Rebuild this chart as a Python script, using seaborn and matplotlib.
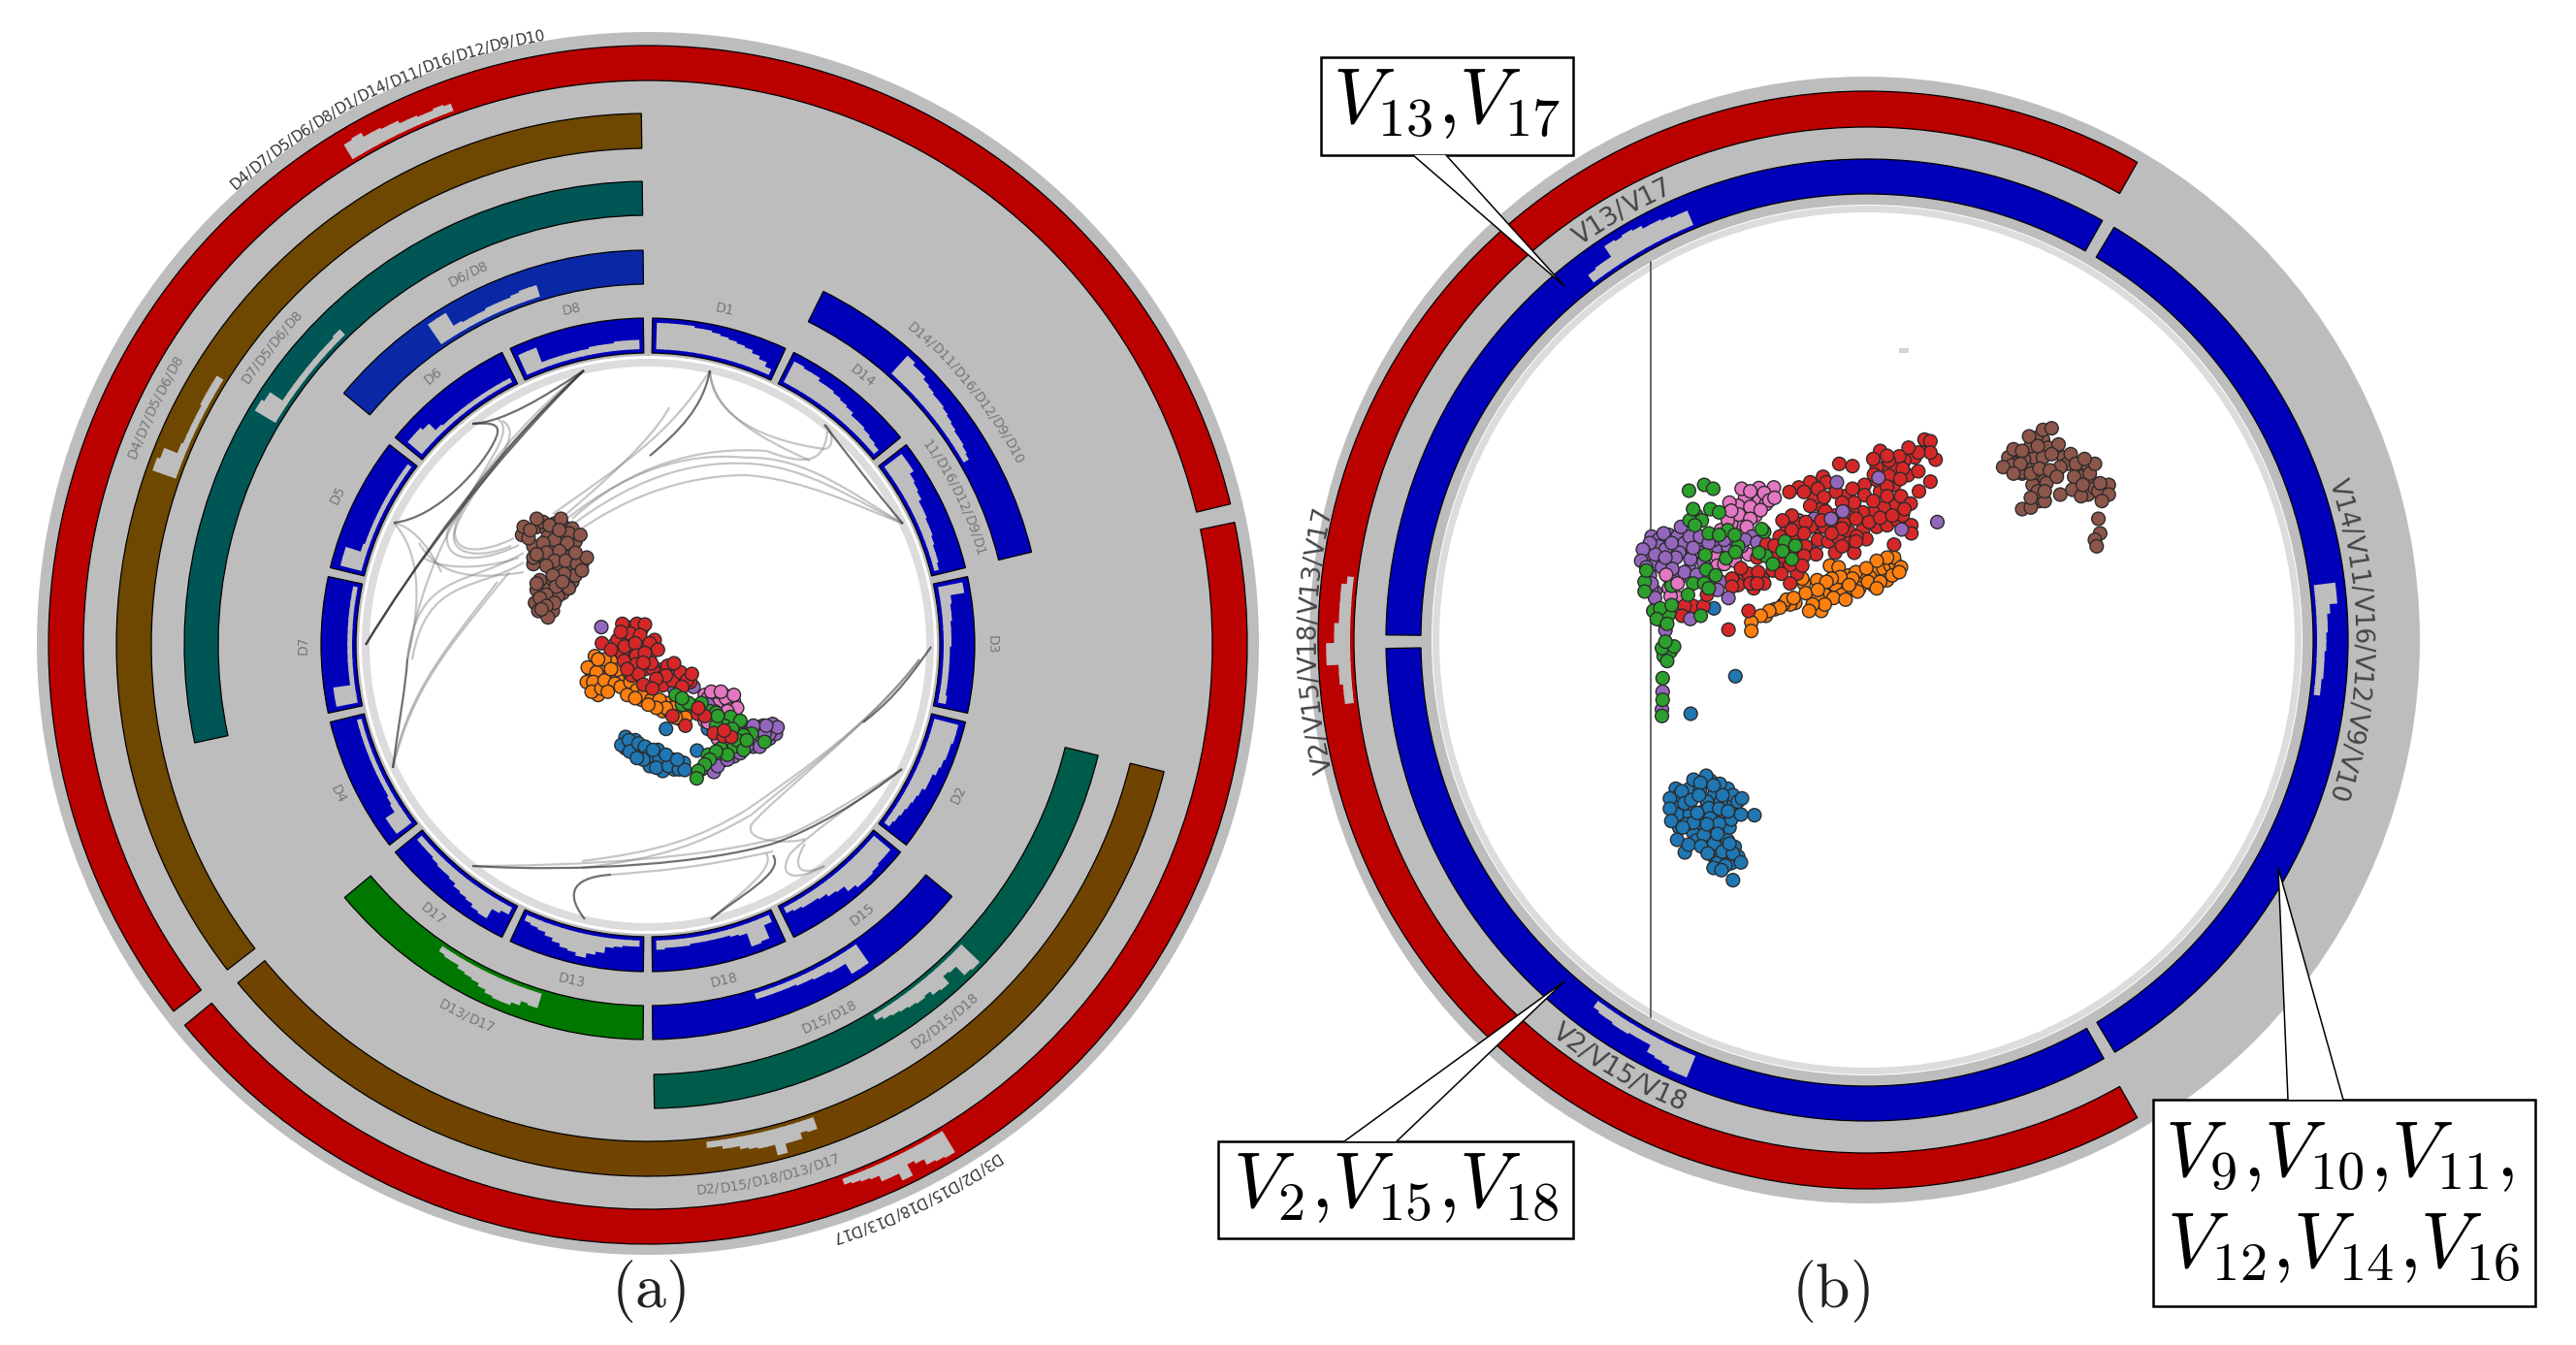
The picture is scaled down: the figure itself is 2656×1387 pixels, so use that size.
import numpy as np
import pandas as pd
import seaborn as sns
from matplotlib import pyplot as plt
from matplotlib.path import Path
from matplotlib.patches import PathPatch, Rectangle, Polygon, Ellipse
from matplotlib.textpath import text_to_path
from matplotlib.font_manager import FontProperties

W, H = 2656, 1387
GRAY = "#bdbdbd"

# ---- left panel: bands as (inner r, outer r, start deg, end deg, colour)
a_ring_r = [(582, 618), (582, 618), (512, 548), (512, 548), (443, 478), (443, 478),
            (372, 407), (372, 407), (372, 407), (372, 407)]
a_ring_start = [-127.7, 78.2, -127.7, 103.8, -102.2, 103.8, -50.4, 26.4, 129.6, 180.7]
a_ring_end = [76.4, 230.6, -0.7, 230.5, -0.7, 179.2, -0.7, 76.4, 179.3, 230.2]
a_ring_col = ["#bb0000", "#bb0000", "#6e4700", "#704400", "#005555", "#005c4a",
              "#0a28a6", "#0000b8", "#0000b8", "#007700"]

# histograms on the outer bands: start, end, heights (share of band)
a_hist_start = [328.7, 148.8, 289.4, 160.7, 300.8, 133.7, 325.5, 41.9, 145.2, 196.9]
a_hist_end = [340.0, 160.0, 302.0, 173.3, 315.7, 148.7, 342.8, 60.0, 163.0, 214.3]
a_hist = [
    [.55, .6, .45, .45, .4, .4, .3, .3, .25, .25, .3, .25],
    [.8, .75, .7, .5, .4, .8, .55, .55, .35, .3, .25, .2],
    [.8, .7, .25, .2, .2, .2, .2, .25, .25, .25],
    [.4, .35, .55, .55, .85, .5, .5, .45, .4, .3, .3, .2, .2],
    [.8, .7, .2, .2, .2, .2, .2, .2, .2, .2, .25],
    [.85, .8, .4, .35, .65, .6, .45, .5, .45, .4, .35, .3, .2],
    [.8, .8, .3, .25, .25, .25, .3, .3, .3, .35, .4, .4],
    [.8, .7, .7, .6, .55, .5, .5, .45, .4, .35, .3, .3, .25, .2],
    [.75, .75, .35, .35, .3, .3, .25, .25, .2, .2, .2, .2, .2],
    [.5, .45, .6, .7, .7, .65, .55, .45, .4, .35, .25, .25, .2],
]
a_ring_hist_band = [(582, 618), (582, 618), (512, 548), (512, 548), (443, 478), (443, 478),
                    (372, 407), (372, 407), (372, 407), (372, 407)]

# inner ring of 14 dimensions, clockwise from the top
dims = ["D1", "D14", "", "D3", "D2", "D15", "D18", "D13", "D17", "D4", "D7", "D5", "D6", "D8"]
dim_hist = [
    [.85, .85, .85, .85, .8, .8, .75, .7, .65, .6, .55, .45, .35, .2],
    [.75, .7, .7, .6, .6, .55, .5, .45, .35, .35, .3, .25, .2],
    [.7, .7, .55, .5, .45, .35, .35, .3, .3, .25, .2, .2, .15],
    [.8, .35, .3, .3, .25, .25, .25, .2, .2, .2, .2, .2, .2, .25],
    [.8, .8, .75, .75, .7, .65, .55, .55, .45, .4, .35, .3, .25, .2],
    [.7, .7, .75, .8, .8, .7, .5, .45, .35, .3, .3, .25, .2],
    [.25, .7, .75, .3, .25, .2, .2, .2, .2, .2, .25, .25, .25, .3],
    [.2, .2, .25, .3, .5, .6, .75, .65, .6, .5, .4, .3, .25, .2],
    [.25, .35, .7, .65, .55, .5, .45, .35, .3, .3, .25, .2, .2, .2],
    [.6, .6, .25, .2, .15, .15, .15, .15, .15, .15, .15, .15, .15, .15],
    [.7, .7, .15, .15, .15, .15, .15, .15, .15, .15, .15, .15, .15, .15],
    [.7, .7, .2, .15, .15, .15, .15, .15, .15, .15, .15, .15, .15, .15],
    [.6, .6, .5, .2, .15, .15, .15, .15, .15, .15, .15, .15, .15, .15],
    [.7, .7, .2, .2, .2, .2, .2, .2, .25, .25, .25, .3, .3, .3],
]

# outer labels: text, radius, angle, flipped upright
a_labels = ["D4/D7/D5/D6/D8/D1/D14/D11/D16/D12/D9/D10", "D3/D2/D15/D18/D13/D17", "D4/D7/D5/D6/D8",
            "D7/D5/D6/D8", "D6/D8", "D14/D11/D16/D12/D9/D10", "11/D16/D12/D9/D1", "D13/D17",
            "D15/D18", "D2/D15/D18", "D2/D15/D18/D13/D17"]
a_label_r = [637, 639, 566, 496, 425, 426, 355, 427, 427, 495, 565]
a_label_th = [334.1, 154.2, 295.8, 308.4, 334.2, 51.6, 64.4, 206, 154, 141.7, 167.2]
a_label_flip = [False, False, False, False, False, False, False, True, True, True, True]

# bundled links as cubic segments (dark ones first)
links_dark = [
    [(602, 382), (510, 473), (423, 587), (377, 665)],
    [(602, 382), (505, 470), (430, 580), (377, 665)],
    [(406, 539), (450, 535), (500, 480), (512, 450)],
    [(512, 450), (517, 436), (505, 436), (487, 437)],
    [(487, 437), (520, 435), (560, 410), (602, 382)],
    [(850, 438), (875, 470), (905, 510), (931, 540)],
    [(732, 382), (725, 420), (700, 445), (670, 470)],
    [(405, 792), (412, 740), (418, 710), (420, 680)],
    [(487, 893), (600, 900), (730, 890), (797, 870)],
    [(797, 870), (840, 855), (890, 825), (930, 793)],
    [(733, 948), (760, 925), (810, 900), (797, 882)],
    [(603, 948), (585, 925), (585, 905), (630, 902)],
    [(960, 667), (930, 710), (915, 725), (890, 745)],
]
links_light = [
    [(602, 382), (500, 465), (440, 560), (420, 680)],
    [(406, 539), (425, 560), (440, 600), (420, 680)],
    [(406, 539), (430, 545), (445, 570), (455, 590)],
    [(405, 792), (420, 720), (450, 680), (513, 600)],
    [(405, 792), (425, 710), (460, 670), (525, 590)],
    [(513, 432), (535, 445), (490, 490), (470, 540)],
    [(470, 540), (462, 575), (500, 570), (530, 555)],
    [(518, 434), (545, 450), (495, 495), (462, 545)],
    [(462, 545), (452, 590), (510, 575), (535, 562)],
    [(602, 382), (540, 440), (480, 510), (468, 550)],
    [(468, 550), (465, 575), (500, 575), (527, 563)],
    [(540, 570), (480, 605), (430, 590), (420, 680)],
    [(540, 580), (490, 610), (440, 595), (425, 680)],
    [(540, 590), (480, 600), (450, 590), (432, 560)],
    [(535, 575), (490, 590), (450, 585), (437, 575)],
    [(570, 530), (640, 480), (690, 450), (732, 382)],
    [(578, 535), (650, 475), (680, 440), (690, 420)],
    [(578, 540), (640, 490), (700, 465), (770, 472)],
    [(770, 472), (830, 470), (880, 510), (931, 540)],
    [(585, 545), (650, 495), (710, 475), (770, 478)],
    [(770, 478), (830, 480), (880, 515), (931, 540)],
    [(597, 547), (650, 510), (710, 490), (770, 490)],
    [(770, 490), (830, 495), (880, 520), (931, 540)],
    [(590, 535), (650, 480), (720, 460), (790, 465)],
    [(790, 465), (830, 480), (850, 478), (853, 445)],
    [(732, 382), (733, 430), (790, 455), (850, 463)],
    [(850, 463), (862, 462), (858, 440), (850, 438)],
    [(732, 382), (735, 425), (780, 450), (835, 475)],
    [(948, 680), (900, 745), (820, 800), (770, 835)],
    [(770, 835), (720, 865), (680, 878), (600, 888)],
    [(948, 680), (895, 750), (815, 805), (775, 840)],
    [(775, 840), (720, 872), (680, 885), (600, 895)],
    [(948, 680), (900, 745), (800, 820), (775, 850)],
    [(775, 850), (765, 870), (820, 870), (830, 865)],
    [(850, 893), (820, 910), (800, 905), (815, 880)],
    [(815, 880), (840, 855), (900, 815), (930, 793)],
    [(850, 893), (825, 905), (815, 895), (830, 870)],
    [(630, 902), (680, 898), (720, 895), (797, 878)],
    [(487, 893), (600, 893), (730, 885), (810, 862)],
    [(810, 862), (840, 850), (880, 825), (930, 793)],
    [(733, 948), (765, 920), (800, 895), (790, 880)],
]

# ---- left panel scatter, embedding units
ax_brown = [(25, 155), (45, 165), (30, 130), (60, 225), (90, 115), (70, 105), (110, 125), (145, 105), (170, 150), (205, 155), (125, 170), (90, 180), (165, 180), (140, 205), (100, 210), (70, 215), (125, 235), (100, 250), (160, 235), (195, 245), (225, 225), (190, 280), (155, 275), (80, 295), (70, 305), (120, 280), (130, 315), (170, 320), (100, 340), (80, 350), (125, 365), (100, 375), (75, 390), (105, 410), (85, 385), (190, 210), (140, 140), (50, 140), (210, 265), (150, 300)]
ax_brown_more = [(40, 150), (70, 130), (100, 135), (125, 120), (150, 125), (180, 135), (190, 175), (165, 205), (115, 195), (80, 195), (60, 190), (105, 160), (135, 165), (150, 190), (85, 235), (115, 260), (140, 255), (175, 265), (205, 230), (210, 245), (140, 290), (100, 305), (115, 330), (150, 335), (90, 320), (70, 325), (110, 355), (135, 345), (95, 395), (120, 390), (65, 365), (180, 300), (170, 250), (60, 245)]
ax_blue = [(332, 805), (355, 790), (358, 825), (385, 800), (405, 810), (415, 840), (450, 845), (440, 875), (478, 870), (510, 880), (528, 882), (470, 835), (400, 850), (430, 820), (380, 845), (505, 850), (470, 755), (566, 822), (600, 755)]
ax_blue_more = [(345, 815), (370, 815), (395, 825), (420, 855), (435, 850), (455, 860), (490, 850), (495, 880), (460, 885), (375, 790), (405, 835), (445, 820), (525, 860), (345, 780), (420, 870)]
ax_pink = [(590, 650), (640, 665), (665, 680), (610, 665), (680, 670), (645, 690), (650, 650), (590, 730), (650, 805), (625, 650), (600, 660), (625, 680), (655, 660), (670, 695), (690, 690), (620, 700), (660, 700), (575, 690), (610, 640), (640, 640), (680, 650), (600, 735), (630, 785)]
ax_purple = [(270, 440), (310, 495), (453, 572), (503, 590), (480, 612), (555, 625), (495, 630), (765, 768), (805, 755), (740, 810), (710, 750), (730, 760), (790, 785), (770, 745), (755, 795), (810, 770), (618, 888), (640, 855), (680, 840), (600, 680), (720, 770), (750, 750), (785, 760), (790, 770), (800, 740), (745, 780), (775, 770), (760, 810), (720, 810), (700, 830), (815, 750), (780, 745), (630, 870), (660, 850), (740, 745), (460, 610), (515, 630), (530, 615)]
ax_orange_more = [(240, 580), (265, 560), (300, 545), (295, 595), (255, 605), (225, 610), (260, 650), (340, 600), (345, 630), (370, 625), (395, 665), (410, 655), (440, 680), (460, 700), (480, 700), (505, 695), (515, 725), (470, 675), (320, 600), (250, 530)]
ax_orange = [(228, 565), (255, 580), (280, 540), (320, 572), (245, 610), (240, 640), (270, 630), (280, 605), (312, 615), (300, 570), (260, 540), (330, 625), (360, 610), (380, 635), (400, 650), (425, 665), (450, 665), (490, 690), (470, 690), (520, 705), (530, 720), (440, 690), (350, 650), (500, 720), (290, 640), (375, 660), (415, 680)]
ax_red_more = [(350, 440), (395, 445), (365, 480), (345, 480), (400, 500), (435, 480), (360, 515), (395, 535), (420, 525), (355, 535), (335, 525), (405, 570), (365, 590), (450, 580), (475, 560), (510, 600), (460, 620), (490, 605), (515, 580), (430, 570), (545, 610), (320, 480)]
ax_red = [(335, 430), (380, 430), (405, 432), (360, 460), (390, 465), (330, 455), (272, 490), (342, 500), (300, 510), (375, 490), (420, 490), (445, 510), (378, 528), (340, 545), (378, 555), (425, 552), (385, 585), (350, 570), (405, 520), (495, 552), (470, 590), (535, 605), (550, 585), (440, 600), (400, 618), (428, 630), (520, 625), (400, 550), (490, 715), (530, 745)]
ax_green_more = [(520, 680), (560, 685), (605, 700), (640, 725), (660, 730), (690, 745), (690, 760), (735, 770), (700, 800), (680, 810), (640, 815), (600, 835), (580, 880)]
ax_green = [(500, 650), (540, 675), (580, 675), (520, 660), (625, 705), (670, 718), (700, 730), (650, 745), (625, 745), (675, 755), (630, 715), (710, 775), (690, 790), (710, 820), (775, 795), (660, 835), (625, 825), (605, 850), (590, 865), (570, 885), (565, 908), (720, 790)]
ax_red_top = [(568, 708), (590, 715), (570, 690), (618, 768), (648, 778), (672, 780), (650, 760)]

# ---- right panel: bands
b_ring_r = [(529, 566), (460, 496), (460, 496), (460, 496)]
b_ring_start = [150.5, -89.4, 30.9, 150.5]
b_ring_end = [389.5, 29.3, 149.0, 269.0]
b_ring_col = ["#bb0000", "#0000b8", "#0000b8", "#0000b8"]

b_hist_start = [322.6, 83.0, 202.4, 263.0]
b_hist_end = [337.3, 97.0, 216.7, 277.0]
b_hist_band = [(460, 496), (460, 496), (460, 496), (529, 566)]
b_hist = [
    [.3, .35, .35, .75, .7, .75, .7, .6, .6, .55, .5, .5],
    [.7, .7, .45, .35, .35, .3, .3, .25, .25, .25, .2, .2],
    [.75, .75, .65, .6, .55, .3, .3, .3, .35, .35, .3, .3, .25],
    [.28, .28, .38, .38, .75, .75, .5, .5, .36, .36, .36, .36, .2],
]

b_labels = ["V13/V17", "V14/V11/V16/V12/V9/V10", "V2/V15/V18/V13/V17", "V2/V15/V18"]
b_label_r = [509, 510, 574, 514]
b_label_th = [330.3, 90, 270, 210]
b_label_flip = [False, False, False, True]

# ---- right panel scatter, embedding units
bx_blue = [(362, 892), (233, 1008), (173, 1270), (173, 1302), (177, 1340), (194, 1398), (216, 1437), (207, 1248), (215, 1285), (241, 1212), (278, 1200), (261, 1222), (317, 1225), (325, 1260), (299, 1230), (235, 1275), (257, 1260), (285, 1300), (315, 1302), (289, 1332), (241, 1345), (315, 1348), (271, 1383), (310, 1380), (227, 1413), (263, 1418), (282, 1440), (325, 1435), (355, 1440), (378, 1468), (333, 1478), (299, 1485), (322, 1492), (355, 1523), (417, 1322), (378, 1320), (369, 1280), (381, 1270), (345, 1410), (210, 1360), (341, 1310), (252, 1315), (280, 1350), (300, 682)]
bx_blue_more = [(190, 1240), (200, 1280), (195, 1320), (230, 1240), (260, 1245), (290, 1215), (300, 1260), (340, 1240), (230, 1320), (270, 1310), (300, 1330), (330, 1330), (350, 1290), (200, 1360), (240, 1375), (280, 1390), (300, 1410), (250, 1400), (300, 1450), (340, 1400), (320, 1455), (350, 1470), (310, 1360), (345, 1360), (260, 1345), (220, 1350), (285, 1365), (350, 1335), (200, 1260), (230, 1285), (320, 1280), (355, 1260), (280, 1280), (360, 1420), (370, 1450), (310, 1470)]
bx_brown = [(1135, 245), (1165, 190), (1190, 195), (1210, 150), (1250, 130), (1275, 125), (1235, 180), (1295, 175), (1185, 235), (1165, 265), (1215, 265), (1275, 205), (1300, 245), (1240, 250), (1270, 255), (1330, 205), (1345, 235), (1385, 265), (1400, 235), (1370, 220), (1340, 275), (1300, 330), (1335, 315), (1360, 335), (1365, 300), (1410, 320), (1440, 330), (1415, 295), (1190, 375), (1215, 370), (1255, 350), (1235, 320), (1255, 320), (1215, 340), (1410, 405), (1415, 450), (1400, 470), (1405, 490), (1420, 350), (1290, 275)]
bx_brown_more = [(1150, 215), (1180, 205), (1210, 200), (1225, 215), (1250, 160), (1265, 185), (1290, 200), (1310, 215), (1250, 215), (1200, 245), (1190, 265), (1230, 280), (1255, 285), (1195, 220), (1230, 155), (1215, 180), (1290, 260), (1320, 235), (1355, 250), (1380, 240), (1360, 275), (1390, 290), (1345, 310), (1380, 330), (1435, 310), (1400, 310), (1420, 340), (1440, 300), (1240, 350), (1220, 300), (1260, 295), (1230, 340), (1190, 260), (1170, 235), (1160, 240)]
bx_orange_more = [(770, 560), (790, 560), (810, 550), (750, 585), (720, 600), (690, 580), (670, 620), (640, 620), (620, 640), (590, 650), (560, 605), (730, 570), (760, 610), (710, 570), (680, 625), (800, 595), (825, 545), (545, 580), (650, 610), (535, 665), (520, 670), (500, 670), (475, 685), (450, 705), (600, 650), (670, 640), (700, 620), (720, 620), (610, 690)]
bx_orange = [(635, 550), (660, 555), (820, 525), (800, 525), (770, 535), (740, 558), (700, 590), (665, 585), (640, 590), (598, 595), (555, 590), (625, 600), (565, 635), (645, 650), (680, 655), (715, 630), (745, 600), (780, 600), (815, 580), (840, 555), (620, 670), (585, 670), (575, 690), (510, 655), (490, 680), (460, 690), (435, 705), (408, 725), (408, 752), (530, 650), (770, 620), (690, 610), (835, 570), (600, 625)]
bx_pink_more = [(420, 330), (390, 340), (370, 365), (430, 350), (420, 395), (360, 420), (380, 420), (320, 440), (310, 520), (340, 510), (380, 505), (170, 620), (180, 690), (170, 700), (200, 650), (310, 550), (350, 420), (450, 360), (430, 310)]
bx_pink = [(380, 312), (405, 320), (473, 308), (445, 325), (460, 348), (345, 355), (405, 368), (435, 378), (372, 392), (340, 410), (405, 405), (395, 430), (400, 515), (175, 645), (150, 690), (190, 680), (330, 545), (360, 535), (475, 340), (350, 380)]
bx_purple_more = [(120, 460), (140, 470), (170, 455), (195, 460), (215, 480), (250, 480), (200, 510), (140, 490), (105, 520), (130, 545), (115, 580), (150, 555), (190, 525), (260, 510), (230, 560), (200, 590), (270, 540), (310, 490), (340, 490), (380, 490), (360, 470), (410, 460), (130, 630), (120, 625), (160, 500), (170, 585), (240, 510), (300, 600), (320, 600), (150, 720), (160, 700)]
bx_purple = [(130, 515), (115, 480), (155, 450), (178, 480), (230, 460), (260, 460), (205, 430), (160, 525), (232, 530), (95, 500), (90, 535), (130, 650), (120, 605), (105, 555), (215, 570), (250, 578), (300, 470), (240, 495), (180, 560), (285, 480), (330, 470), (390, 470), (425, 478), (600, 480), (310, 625), (160, 750), (155, 815), (152, 940), (150, 995), (590, 405), (545, 410)]
bx_red_more = [(915, 185), (880, 215), (850, 225), (820, 245), (790, 250), (770, 245), (860, 270), (820, 300), (780, 320), (850, 355), (820, 365), (790, 370), (760, 385), (730, 385), (700, 385), (690, 400), (650, 395), (600, 430), (620, 430), (580, 430), (540, 420), (510, 430), (530, 470), (600, 470), (630, 475), (660, 465), (690, 445), (730, 440), (770, 430), (800, 425), (830, 410), (845, 395), (690, 480), (650, 510), (530, 510), (545, 490), (500, 540), (480, 555), (470, 565), (540, 575), (390, 580), (370, 610), (400, 575), (440, 590), (415, 620), (480, 510), (440, 505), (650, 420), (610, 365), (680, 335), (590, 340), (735, 300), (770, 285)]
bx_red = [(908, 160), (925, 165), (940, 222), (925, 200), (890, 200), (862, 185), (835, 212), (805, 225), (780, 195), (760, 220), (800, 210), (845, 250), (805, 272), (838, 282), (762, 268), (890, 258), (925, 290), (892, 320), (662, 235), (700, 242), (615, 275), (578, 292), (625, 292), (545, 308), (518, 322), (560, 322), (600, 312), (652, 322), (700, 312), (618, 338), (735, 332), (760, 350), (800, 305), (840, 335), (800, 335), (705, 355), (670, 355), (868, 358), (578, 365), (622, 382), (525, 395), (498, 410), (565, 415), (610, 410), (675, 420), (710, 405), (748, 415), (780, 402), (815, 395), (850, 375), (870, 425), (870, 450), (820, 485), (740, 468), (712, 460), (670, 435), (640, 450), (560, 450), (525, 440), (490, 460), (452, 483), (475, 488), (425, 525), (565, 490), (595, 515), (560, 520), (520, 548), (495, 575), (520, 605), (555, 550), (670, 490), (705, 510), (710, 475), (378, 558), (428, 570), (352, 590), (405, 605), (445, 605), (425, 605), (352, 615), (240, 675), (215, 675), (270, 675), (400, 690), (342, 748), (280, 640), (208, 705)]
bx_purple_top = [(655, 292), (775, 278), (672, 382), (638, 405), (842, 438), (945, 415), (342, 650), (232, 715)]
bx_green_more = [(250, 395), (265, 410), (230, 410), (340, 440), (370, 490), (445, 445), (525, 530), (450, 520), (430, 510), (170, 700), (155, 830), (175, 815), (125, 690)]
bx_green = [(228, 318), (272, 300), (298, 312), (240, 375), (290, 375), (315, 385), (245, 425), (285, 450), (315, 455), (360, 455), (275, 517), (335, 527), (362, 508), (438, 437), (505, 475), (535, 488), (498, 505), (470, 545), (278, 562), (305, 580), (240, 605), (272, 605), (178, 612), (100, 600), (105, 565), (225, 640), (145, 682), (178, 672), (135, 715), (165, 730), (262, 705), (150, 805), (185, 800), (160, 785), (165, 845), (152, 898), (152, 965), (150, 1015), (100, 630), (285, 620)]
bx_pink_top = [(162, 578), (195, 605)]

palette = {"blue": "#1f77b4", "orange": "#ff7f0e", "green": "#2ca02c", "red": "#d62728",
           "purple": "#9467bd", "brown": "#8c564b", "pink": "#e377c2"}

sns.set_theme(style="white")
plt.rcParams["mathtext.fontset"] = "cm"
plt.rcParams["font.family"] = "DejaVu Sans"

fig = plt.figure(figsize=(W / 100, H / 100), dpi=100)
fig.patch.set_facecolor("white")

# grey discs sit behind everything, in pixel units
bg = fig.add_axes([0, 0, 1, 1], zorder=0)
bg.set_xlim(0, W)
bg.set_ylim(H, 0)
bg.axis("off")
bg.add_patch(Ellipse((668, 663.5), 1260, 1261, color=GRAY, lw=0))
bg.add_patch(Ellipse((1922.5, 660), 1145, 1162, color=GRAY, lw=0))


def polar_panel(cx, cy, R):
    ax = fig.add_axes([(cx - R) / W, 1 - (cy + R) / H, 2 * R / W, 2 * R / H], projection="polar", zorder=1)
    ax.set_theta_zero_location("N")
    ax.set_theta_direction(-1)
    ax.set_rlim(0, R)
    ax.set_xticks([])
    ax.set_yticks([])
    ax.grid(False)
    ax.spines["polar"].set_visible(False)
    ax.set_facecolor("none")
    return ax


def band(ax, r0, r1, th0, th1, col):
    ax.bar(np.radians(th0), r1 - r0, width=np.radians(th1 - th0), bottom=r0, align="edge",
           color=col, edgecolor="black", linewidth=0.9)


def hist_bars(ax, r0, r1, th0, th1, vals, pad=0):
    step = (th1 - th0) / len(vals)
    for i, v in enumerate(vals):
        # a bit of overlap, otherwise the band colour shows through the seams
        w = step * 1.2 if i < len(vals) - 1 else step
        ax.bar(np.radians(th0 + i * step), v * (r1 - r0 - pad), width=np.radians(w),
               bottom=r0 + pad, align="edge", color=GRAY, linewidth=0)


def white_hole(ax, r, rim0, rim1):
    ax.bar(0, r, width=2 * np.pi, bottom=0, color="white", linewidth=0)
    ax.bar(0, rim1 - rim0, width=2 * np.pi, bottom=rim0, color="#dcdcdc", linewidth=0)


def curved_label(ax, text, cx, cy, r, th, flip, size, col):
    # one piece per slash-separated token, so long labels follow the ring
    parts = text.split("/")
    tokens = [p + "/" for p in parts[:-1]] + [parts[-1]]
    fp = FontProperties(family="DejaVu Sans", size=size)
    widths = [text_to_path.get_text_width_height_descent(t, fp, False)[0] * 100 / 72 for t in tokens]
    pos = -sum(widths) / 2
    for t, w in zip(tokens, widths):
        mid = pos + w / 2
        pos += w
        d = np.degrees(mid / r)
        a = th - d if flip else th + d
        rot = 180 - a if flip else -a
        x = cx + r * np.sin(np.radians(a))
        y = cy - r * np.cos(np.radians(a))
        ax.text(x, y, t, rotation=rot, rotation_mode="anchor", ha="center", va="center",
                fontsize=size, color=col)


def scatter_panel(rect, xmax, ymax, groups):
    ax = fig.add_axes([rect[0] / W, 1 - (rect[1] + rect[3]) / H, rect[2] / W, rect[3] / H], zorder=6)
    frames = []
    for name, pts in groups:
        frames.append(pd.DataFrame(pts, columns=["x", "y"]).assign(cluster=name))
    df = pd.concat(frames, ignore_index=True)
    sns.scatterplot(data=df, x="x", y="y", hue="cluster", palette=palette, s=98, edgecolor="#2b2b2b",
                    linewidth=1.0, legend=False, ax=ax, clip_on=False)
    ax.set_xlim(0, xmax)
    ax.set_ylim(ymax, 0)
    ax.axis("off")
    return ax


# ---------- panel (a)
cxa, cya = 668, 665
pa = polar_panel(cxa, cya, 640)
white_hole(pa, 298, 287, 295)
for (r0, r1), s, e, c in zip(a_ring_r, a_ring_start, a_ring_end, a_ring_col):
    band(pa, r0, r1, s, e, c)
for (r0, r1), s, e, v in zip(a_ring_hist_band, a_hist_start, a_hist_end, a_hist):
    hist_bars(pa, r0, r1, s, e, v, pad=4)
seg = 360 / len(dims)
for i, v in enumerate(dim_hist):
    s = i * seg + 0.8
    e = (i + 1) * seg - 0.8
    band(pa, 301, 337, s, e, "#0000b8")
    hist_bars(pa, 301, 337, s + 0.8, e - 0.8, v, pad=4)

# ---------- panel (b)
cxb, cyb = 1925, 660
pb = polar_panel(cxb, cyb, 590)
white_hole(pb, 449, 441, 448)
for (r0, r1), s, e, c in zip(b_ring_r, b_ring_start, b_ring_end, b_ring_col):
    band(pb, r0, r1, s, e, c)
for (r0, r1), s, e, v in zip(b_hist_band, b_hist_start, b_hist_end, b_hist):
    hist_bars(pb, r0, r1, s, e, v, pad=4)

# ---------- overlay in pixel units: links, labels, callouts
ov = fig.add_axes([0, 0, 1, 1], zorder=5)
ov.set_xlim(0, W)
ov.set_ylim(H, 0)
ov.axis("off")

for pts in links_light:
    ov.add_patch(PathPatch(Path(pts, [Path.MOVETO, Path.CURVE4, Path.CURVE4, Path.CURVE4]), fill=False,
                           edgecolor="#808080", alpha=0.45, lw=1.6))
for pts in links_dark:
    ov.add_patch(PathPatch(Path(pts, [Path.MOVETO, Path.CURVE4, Path.CURVE4, Path.CURVE4]), fill=False,
                           edgecolor="#333333", alpha=0.7, lw=1.6))

for t, r, th, fl in zip(a_labels, a_label_r, a_label_th, a_label_flip):
    col = "#333333" if r > 600 else "#777777"
    curved_label(ov, t, cxa, cya, r, th, fl, 11 if r > 600 else 10, col)
for i, name in enumerate(dims):
    if name:
        mid = (i + 0.5) * seg
        flip = 90 < mid < 270
        curved_label(ov, name, cxa, cya, 355, mid, flip, 10, "#777777")
for t, r, th, fl in zip(b_labels, b_label_r, b_label_th, b_label_flip):
    curved_label(ov, t, cxb, cyb, r, th, fl, 19, "#444444")

ov.plot([1702, 1702], [270, 1049], color="#666666", lw=1.4)
ov.add_patch(Rectangle((1958, 359), 10, 5, color="#d5d5d5", lw=0))


def callout(x0, y0, x1, y1, b0, b1, by, tip):
    ov.add_patch(Rectangle((x0, y0), x1 - x0, y1 - y0, facecolor="white", edgecolor="black", lw=1.8, zorder=8))
    ov.add_patch(Polygon([(b0, by), (b1, by), tip], facecolor="white", edgecolor="none", zorder=9))
    ov.plot([b0, tip[0], b1], [by, tip[1], by], color="black", lw=1.1, zorder=10)


callout(1362, 59, 1622, 160, 1457, 1491, 160, (1613, 295))
callout(1256, 1177, 1622, 1277, 1386, 1440, 1177, (1613, 1012))
callout(2220, 1134, 2614, 1347, 2359, 2416, 1134, (2349, 895))

ov.text(1492, 106, r"$V_{13}{,}V_{17}$", fontsize=58, ha="center", va="center", zorder=11, color="black")
ov.text(1439, 1224, r"$V_{2}{,}V_{15}{,}V_{18}$", fontsize=58, ha="center", va="center", zorder=11, color="black")
ov.text(2412, 1192, r"$V_{9}{,}V_{10}{,}V_{11}{,}$", fontsize=58, ha="center", va="center", zorder=11, color="black")
ov.text(2416, 1286, r"$V_{12}{,}V_{14}{,}V_{16}$", fontsize=58, ha="center", va="center", zorder=11, color="black")
ov.text(669, 1332, r"$\mathrm{(a)}$", fontsize=46, ha="center", va="center", color="#222222")
ov.text(1887, 1332, r"$\mathrm{(b)}$", fontsize=46, ha="center", va="center", color="#222222")

# ---------- clusters
scatter_panel((530, 500, 340, 340), 1020, 1020, [
    ("blue", ax_blue_more), ("blue", ax_blue), ("brown", ax_brown_more), ("brown", ax_brown), ("pink", ax_pink),
    ("purple", ax_purple), ("orange", ax_orange_more), ("orange", ax_orange), ("red", ax_red_more), ("red", ax_red),
    ("green", ax_green_more), ("green", ax_green), ("red", ax_red_top)])
scatter_panel((1660, 400, 560, 340), 1568, 1020, [
    ("blue", bx_blue_more), ("blue", bx_blue), ("brown", bx_brown_more), ("brown", bx_brown),
    ("orange", bx_orange_more), ("orange", bx_orange), ("pink", bx_pink_more), ("pink", bx_pink),
    ("purple", bx_purple_more), ("purple", bx_purple), ("red", bx_red_more), ("red", bx_red),
    ("purple", bx_purple_top), ("green", bx_green_more), ("green", bx_green), ("pink", bx_pink_top)])

fig.savefig("out.png", dpi=100)
